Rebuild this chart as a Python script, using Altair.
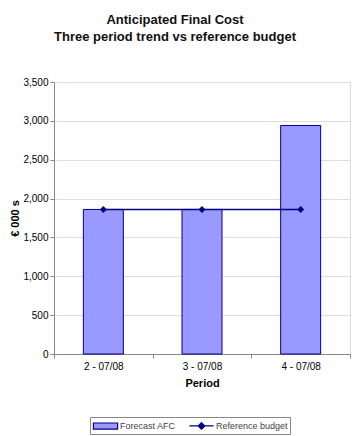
import altair as alt
import pandas as pd

# Chart values
periods = ["2 - 07/08", "3 - 07/08", "4 - 07/08"]
forecast_afc = [1860, 1860, 2940]
reference_budget = [1860, 1860, 1860]
series_names = ["Forecast AFC", "Reference budget"]
y_ticks = [0, 500, 1000, 1500, 2000, 2500, 3000, 3500]

FONT = "Liberation Sans"
BAR_FILL = "#9999FF"
NAVY = "#000080"

bars_df = pd.DataFrame({"Period": periods, "value": forecast_afc, "series": series_names[0]})
ref_df = pd.DataFrame({"Period": periods, "value": reference_budget, "series": series_names[1]})
legend_df = pd.concat([bars_df, ref_df], ignore_index=True)

x_enc = alt.X(
    "Period:N",
    sort=periods,
    scale=alt.Scale(paddingInner=0, paddingOuter=0),
    axis=alt.Axis(
        title="Period",
        labelAngle=0,
        tickBand="extent",
        tickSize=4,
        labelPadding=3,
        titleY=29,
        titleBaseline="middle",
        grid=False,
    ),
)
y_enc = alt.Y(
    "value:Q",
    scale=alt.Scale(domain=[0, 3500], nice=False),
    axis=alt.Axis(
        title="€ 000 s",
        values=y_ticks,
        format=",d",
        tickSize=4,
        labelPadding=2,
        labelOverlap=False,
        titleX=-39,
        titleY=136,
        titleBaseline="middle",
        grid=True,
    ),
)

bars = alt.Chart(bars_df).mark_bar(
    size=40, color=BAR_FILL, stroke=NAVY, strokeWidth=1
).encode(x=x_enc, y=y_enc)

ref_line = alt.Chart(ref_df).mark_line(color=NAVY, strokeWidth=1.5).encode(
    x=x_enc, y=y_enc
)

ref_points = alt.Chart(ref_df).mark_point(
    shape="diamond", filled=True, color=NAVY, size=49, opacity=1
).encode(x=x_enc, y=y_enc)

# Legend-only layer: rectangle swatch for the bars, line with diamond for the budget
rect_path = "M-2.2,-0.55H2.2V0.55H-2.2Z"
line_diamond_path = "M-2.2,0H2.2M0,-0.6L0.6,0L0,0.6L-0.6,0Z"
legend_spec = alt.Legend(
    title=None,
    orient="none",
    legendX=36,
    legendY=335,
    direction="horizontal",
    columns=2,
    symbolSize=121,
    symbolOffset=7,
    symbolStrokeWidth=1.2,
    symbolOpacity=1,
    labelOffset=8,
    columnPadding=10,
    padding=2,
    strokeColor="#888888",
    labelFont=FONT,
    labelFontSize=9,
    labelColor="#444444",
)
legend_layer = alt.Chart(legend_df).mark_point(
    filled=True, strokeWidth=1.2, opacity=0
).encode(
    x=x_enc,
    y=y_enc,
    fill=alt.Fill(
        "series:N",
        scale=alt.Scale(domain=series_names, range=[BAR_FILL, NAVY]),
        legend=legend_spec,
    ),
    stroke=alt.Stroke(
        "series:N",
        scale=alt.Scale(domain=series_names, range=[NAVY, NAVY]),
        legend=legend_spec,
    ),
    shape=alt.Shape(
        "series:N",
        scale=alt.Scale(domain=series_names, range=[rect_path, line_diamond_path]),
        legend=legend_spec,
    ),
)

chart = (
    alt.layer(bars, ref_line, ref_points, legend_layer)
    .properties(
        width=296,
        height=272,
        autosize=alt.AutoSizeParams(type="none"),
        padding={"left": 54, "top": 82, "right": 11, "bottom": 82},
        title=alt.TitleParams(
            text=["Anticipated Final Cost", "Three period trend vs reference budget"],
            font=FONT,
            fontSize=13,
            fontWeight="bold",
            color="#111111",
            anchor="middle",
            dx=-27,
            offset=33,
            lineHeight=17,
        ),
    )
    .configure_view(stroke="#999999", strokeWidth=1)
    .configure_axis(
        labelFont=FONT,
        labelFontSize=8.5,
        labelColor="#444444",
        titleFont=FONT,
        titleFontSize=8.5,
        titleFontWeight="bold",
        titleColor="#111111",
        domainColor="#333333",
        tickColor="#333333",
        gridColor="#8c8c8c",
        gridWidth=1,
    )
    .configure(background="white")
)

chart.save("out.html", embed_options={"renderer": "svg", "actions": False})
